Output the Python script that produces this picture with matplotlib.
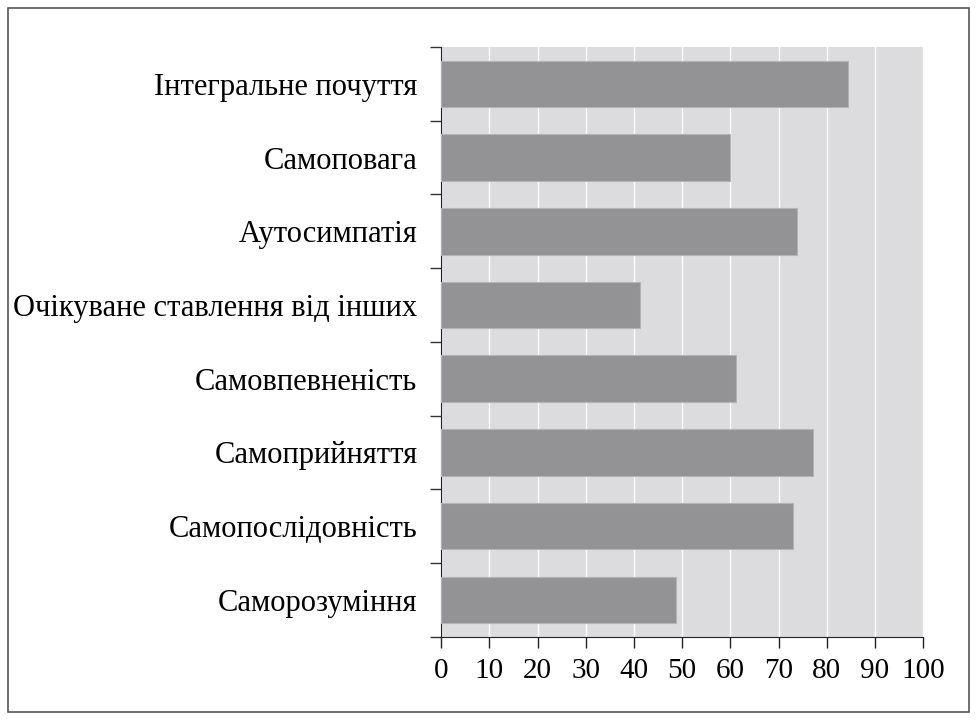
import numpy as np
import matplotlib.pyplot as plt
from matplotlib.patches import Rectangle

categories = ["Інтегральне почуття", "Самоповага", "Аутосимпатія",
              "Очікуване ставлення від інших", "Самовпевненість",
              "Самоприйняття", "Самопослідовність", "Саморозуміння"]
values = [84.4, 60.0, 73.9, 41.2, 61.1, 77.1, 72.9, 48.8]
x_ticks = list(range(0, 101, 10))

plt.rcParams["font.family"] = ["Liberation Serif", "DejaVu Serif"]

fig = plt.figure(figsize=(9.78, 7.2), dpi=100)
ax = fig.add_axes([0.451, 0.1157, 0.493, 0.819])

n = len(categories)
pos = np.arange(n)[::-1]
ax.barh(pos, values, height=0.63, color="#939396", edgecolor="#b4b4b6",
        linewidth=0.8, zorder=3)

ax.set_facecolor("#dcdcde")
ax.set_xlim(0, 100)
ax.set_ylim(-0.5, n - 0.5)
ax.set_xticks(x_ticks)
ax.set_xticklabels([str(t) for t in x_ticks], fontsize=21)
ax.set_yticks(pos)
ax.set_yticklabels(categories, fontsize=22)
ax.set_yticks(np.arange(-0.5, n, 1.0), minor=True)
ax.tick_params(axis="y", which="major", length=0, pad=17)
ax.tick_params(axis="y", which="minor", length=8, width=1, direction="out", color="#333333")
ax.tick_params(axis="x", length=8, width=1, direction="out", pad=7, color="#222222")
ax.xaxis.grid(True, color="white", linewidth=1, zorder=1)
ax.set_axisbelow(True)

for s in ["top", "right"]:
    ax.spines[s].set_visible(False)
ax.spines["left"].set_color("#222222")
ax.spines["bottom"].set_color("#222222")

fig.patches.append(Rectangle((0.008, 0.011), 0.983, 0.978, transform=fig.transFigure,
                             fill=False, edgecolor="#555555", linewidth=1.2))

fig.savefig("out.png", dpi=100)
